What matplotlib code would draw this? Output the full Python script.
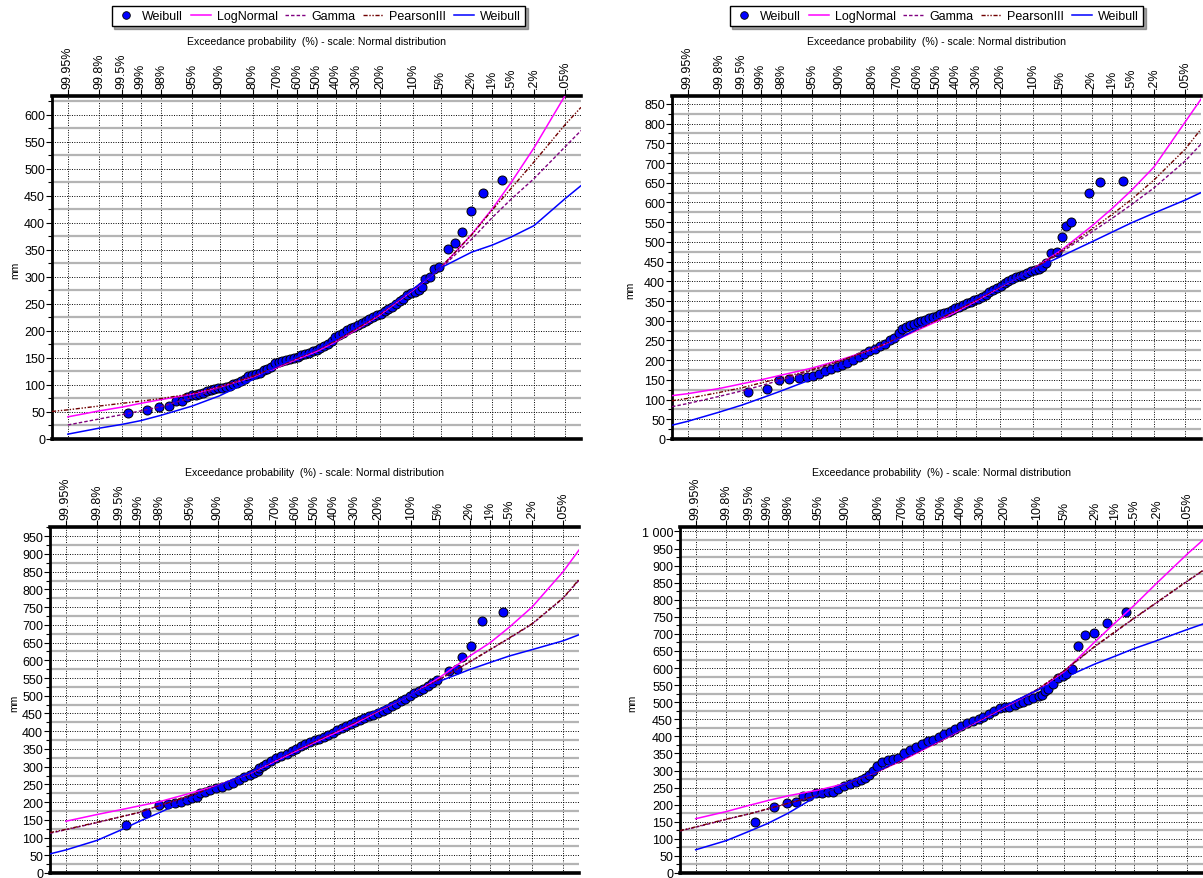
import numpy as np
import matplotlib
matplotlib.use("Agg")
import matplotlib.pyplot as plt
from matplotlib.lines import Line2D
from matplotlib.ticker import MultipleLocator, FuncFormatter, NullLocator
from statistics import NormalDist

plt.rcParams['font.family'] = ['Liberation Sans', 'DejaVu Sans']

W, H = 1203, 879
nan = np.nan

# ---------------- axis data ----------------
prob_pct = [99.95, 99.8, 99.5, 99, 98, 95, 90, 80, 70, 60, 50, 40, 30, 20, 10, 5, 2, 1, 0.5, 0.2, 0.05]
prob_labels = ["99.95%", "99.8%", "99.5%", "99%", "98%", "95%", "90%", "80%", "70%", "60%",
               "50%", "40%", "30%", "20%", "10%", "5%", "2%", "1%", ".5%", ".2%", ".05%"]
legend_labels = ["Weibull", "LogNormal", "Gamma", "PearsonIII", "Weibull"]
title_text = "Exceedance probability  (%) - scale: Normal distribution"
y_label = "mm"

# standard normal reduced variate at which fitted curves are sampled
curve_variate = [-3.5, -3.29, -2.878, -2.576, -2.326, -2.054, -1.645, -1.282, -0.842, -0.524, -0.253, 0.0,
                 0.253, 0.524, 0.842, 1.282, 1.645, 2.054, 2.326, 2.576, 2.878, 3.29, 3.5]

# ---------------- top-left ----------------
tl_lognormal = [nan, 41, 52, 59, 66, 73, 83, 96, 115, 132, 148, 162, 180, 202, 230, 276, 317, 379, 426, 475, 539, 636, 690]
tl_gamma     = [nan, 26, 37, 45, 52, 60, 77, 95, 116, 133, 149, 164, 181, 203, 231, 277, 316, 370, 410, 444, 482, 541, 571]
tl_pearson   = [51, 54, 61, 66, 70, 75, 84, 97, 116, 134, 150, 165, 182, 204, 232, 278, 318, 378, 424, 464, 513, 582, 614]
tl_weibull   = [nan, 9, 20, 27, 34, 44, 61, 80, 110, 135, 152, 166, 185, 207, 234, 278, 317, 346, 359, 374, 395, 445, 469]
tl_obs_variate = [-2.50, -2.24, -2.08, -1.95, -1.86, -1.78, -1.71, -1.65, -1.60, -1.55, -1.50, -1.45, -1.40, -1.35,
                  -1.30, -1.25, -1.20, -1.15, -1.10, -1.05, -1.00, -0.95, -0.90, -0.85, -0.80, -0.75, -0.70, -0.65,
                  -0.60, -0.55, -0.50, -0.45, -0.40, -0.35, -0.30, -0.25, -0.20, -0.15, -0.10, -0.05, 0.00, 0.05,
                  0.10, 0.15, 0.20, 0.25, 0.30, 0.35, 0.40, 0.45, 0.50, 0.55, 0.60, 0.65, 0.70, 0.75, 0.80, 0.85,
                  0.90, 0.95, 1.00, 1.05, 1.10, 1.15, 1.20, 1.25, 1.30, 1.35, 1.39, 1.44, 1.50, 1.56, 1.62,
                  1.735, 1.83, 1.925, 2.04, 2.20, 2.46]
tl_obs_mm = [48, 54, 60, 61, 70, 70, 78, 81, 82, 84, 86, 88, 90, 92,
             94, 95, 96, 98, 101, 104, 108, 112, 116, 119, 121, 123, 127, 130,
             134, 140, 143, 144, 147, 149, 150, 152, 155, 158, 160, 162, 165, 168,
             172, 176, 182, 188, 192, 197, 201, 205, 208, 211, 215, 218, 222, 225, 229, 232,
             237, 241, 245, 250, 255, 260, 266, 270, 272, 275, 281, 297, 300, 314, 318,
             352, 363, 383, 423, 456, 479]

# ---------------- top-right ----------------
tr_lognormal = [110, 115, 128, 140, 150, 162, 180, 200, 228, 252, 276, 298, 322, 350, 385, 432, 478, 540, 585, 630, 690, 804, 862]
tr_gamma     = [82, 90, 108, 122, 135, 150, 174, 197, 228, 255, 279, 302, 326, 352, 386, 431, 473, 525, 560, 594, 637, 705, 748]
tr_pearson   = [97, 103, 118, 130, 142, 155, 176, 198, 228, 254, 278, 301, 325, 352, 386, 432, 476, 532, 570, 607, 657, 735, 786]
tr_weibull   = [35, 45, 68, 86, 103, 122, 152, 182, 220, 252, 280, 306, 330, 356, 388, 430, 463, 500, 525, 548, 573, 606, 625]
tr_obs_variate = [-2.50, -2.24, -2.08, -1.95, -1.82, -1.72, -1.64, -1.56, -1.48, -1.40, -1.32, -1.25, -1.18, -1.10,
                  -1.03, -0.96, -0.89, -0.82, -0.75, -0.68, -0.62, -0.56, -0.50, -0.45, -0.40, -0.35, -0.30, -0.25,
                  -0.20, -0.15, -0.10, -0.05, 0.00, 0.05, 0.10, 0.15, 0.20, 0.25, 0.30, 0.35, 0.40, 0.45, 0.50,
                  0.55, 0.60, 0.65, 0.70, 0.75, 0.80, 0.85, 0.90, 0.95, 1.00, 1.05, 1.10, 1.15, 1.20, 1.25, 1.30,
                  1.35, 1.40, 1.45, 1.52, 1.59, 1.66, 1.72, 1.78, 2.02, 2.17, 2.47]
tr_obs_mm = [118, 128, 150, 152, 155, 158, 160, 165, 172, 178, 182, 188, 194, 200,
             208, 215, 222, 228, 235, 242, 250, 256, 268, 280, 284, 289, 292, 296,
             300, 303, 306, 309, 312, 316, 320, 323, 328, 332, 336, 340, 344, 348, 352,
             356, 361, 366, 372, 377, 383, 389, 395, 401, 407, 410, 413, 417, 421, 425, 429,
             432, 437, 446, 472, 475, 513, 540, 550, 625, 653, 655]

# ---------------- bottom-left ----------------
bl_lognormal = [nan, 146, 165, 178, 189, 201, 225, 247, 282, 315, 343, 368, 393, 420, 456, 503, 550, 612, 650, 693, 750, 850, 911]
bl_gamma     = [112, 122, 142, 158, 170, 190, 218, 245, 283, 318, 346, 371, 397, 424, 458, 503, 545, 595, 630, 662, 702, 775, 826]
bl_pearson   = [114, 123, 143, 158, 171, 190, 218, 245, 283, 318, 346, 371, 397, 424, 458, 503, 545, 596, 631, 663, 703, 776, 828]
bl_weibull   = [54, 65, 92, 120, 145, 170, 210, 245, 285, 320, 349, 375, 400, 427, 460, 503, 540, 574, 594, 612, 630, 655, 672]
bl_obs_variate = [-2.49, -2.23, -2.06, -1.94, -1.85, -1.76, -1.69, -1.62, -1.56, -1.52, -1.45, -1.38, -1.30, -1.22,
                  -1.15, -1.08, -1.00, -0.93, -0.86, -0.80, -0.75, -0.73, -0.68, -0.64, -0.58, -0.51, -0.44, -0.37,
                  -0.30, -0.24, -0.18, -0.12, -0.06, 0.00, 0.06, 0.12, 0.18, 0.24, 0.30, 0.36, 0.42, 0.48, 0.54,
                  0.60, 0.66, 0.72, 0.78, 0.84, 0.90, 0.96, 1.02, 1.08, 1.14, 1.20, 1.26, 1.32, 1.38, 1.44, 1.50,
                  1.56, 1.62, 1.78, 1.88, 1.95, 2.07, 2.22, 2.50]
bl_obs_mm = [134, 169, 192, 195, 197, 201, 205, 211, 214, 225, 229, 234, 239, 244,
             248, 253, 262, 270, 276, 282, 288, 295, 302, 307, 315, 323, 330, 337,
             344, 351, 358, 364, 370, 374, 379, 384, 390, 396, 402, 408, 414, 420, 426,
             431, 437, 442, 447, 452, 458, 464, 470, 477, 485, 492, 500, 507, 513, 520, 527,
             535, 545, 570, 575, 608, 640, 712, 735]

# ---------------- bottom-right ----------------
br_lognormal = [nan, 159, 180, 198, 212, 226, 243, 262, 298, 330, 360, 388, 418, 448, 485, 535, 590, 677, 733, 783, 848, 934, 975]
br_gamma     = [123, 134, 157, 173, 187, 204, 228, 260, 298, 332, 362, 390, 420, 450, 487, 537, 592, 663, 706, 745, 791, 854, 885]
br_pearson   = [124, 135, 158, 173, 188, 204, 228, 260, 298, 332, 362, 390, 420, 450, 487, 537, 593, 664, 707, 746, 792, 855, 886]
br_weibull   = [nan, 68, 95, 122, 145, 175, 228, 262, 300, 335, 364, 392, 420, 452, 489, 535, 572, 612, 635, 657, 680, 713, 729]
br_obs_variate = [-2.50, -2.24, -2.07, -1.95, -1.86, -1.78, -1.68, -1.60, -1.52, -1.45, -1.38, -1.30, -1.22, -1.15,
                  -1.08, -1.02, -0.97, -0.92, -0.86, -0.79, -0.72, -0.65, -0.58, -0.50, -0.42, -0.34, -0.26, -0.18,
                  -0.11, -0.04, 0.04, 0.11, 0.18, 0.26, 0.34, 0.42, 0.50, 0.56, 0.63, 0.70, 0.78, 0.85, 0.91,
                  0.98, 1.04, 1.09, 1.16, 1.23, 1.30, 1.34, 1.39, 1.43, 1.49, 1.56, 1.62, 1.67, 1.75, 1.83,
                  1.92, 2.04, 2.21, 2.47]
br_obs_mm = [149, 192, 204, 207, 224, 224, 233, 234, 236, 238, 245, 255, 260, 266,
             272, 278, 287, 300, 312, 326, 330, 334, 337, 350, 360, 370, 378, 385,
             389, 398, 406, 414, 422, 430, 438, 446, 452, 457, 466, 474, 482, 485, 487,
             493, 498, 501, 506, 511, 517, 520, 532, 540, 552, 572, 578, 582, 596, 666,
             696, 703, 733, 763]

# ---------------- drawing ----------------
fig = plt.figure(figsize=(W / 100, H / 100), dpi=100)

nd = NormalDist()
tick_variate = [nd.inv_cdf(1 - p / 100.0) for p in prob_pct]

c_obs = '#0000ff'
c_logn = '#ff00ff'
c_gamma = '#800080'
c_pear = '#700000'
c_weib = '#0000ff'
ls_gamma = (0, (2.5, 1.5))
ls_pear = (0, (3, 1.2, 1, 1.2, 1, 1.2))


def thousands(v, pos):
    return f"{int(round(v)):,}".replace(",", " ")


def draw_panel(rect, ymax, obs_x, obs_y, logn, gamma, pear, weib, mm_xy):
    l, t, r, b = rect
    ax = fig.add_axes([l / W, 1 - b / H, (r - l) / W, (b - t) / H])
    ax.set_xlim(-3.5, 3.5)
    ax.set_ylim(0, ymax)
    ax.set_axisbelow(True)

    ax.xaxis.tick_top()
    ax.set_xticks(tick_variate)
    ax.set_xticklabels(prob_labels, rotation=90)
    ax.xaxis.set_minor_locator(NullLocator())
    ax.tick_params(axis='x', which='major', direction='out', length=5, width=0.8,
                   top=True, bottom=False, labeltop=True, labelbottom=False, pad=1,
                   labelsize=9, colors='black')
    ax.yaxis.set_major_locator(MultipleLocator(50))
    ax.yaxis.set_minor_locator(MultipleLocator(25))
    ax.yaxis.set_major_formatter(FuncFormatter(thousands))
    ax.tick_params(axis='y', which='major', direction='out', length=4, width=0.8, pad=1, labelsize=9)
    ax.tick_params(axis='y', which='minor', direction='out', length=3, width=0.8)

    ax.grid(True, which='major', axis='both', color='black', linestyle=(0, (1, 1.5)), linewidth=0.7)
    ax.grid(True, which='minor', axis='y', color='#b4b4b4', linestyle='-', linewidth=1.6)

    ax.spines['right'].set_visible(False)
    ax.spines['top'].set_linewidth(2.6)
    ax.spines['bottom'].set_linewidth(2.6)
    ax.spines['left'].set_linewidth(2.0)

    ax.plot(obs_x, obs_y, linestyle='none', marker='o', markersize=6.5,
            markerfacecolor=c_obs, markeredgecolor='black', markeredgewidth=0.7, zorder=3)
    ax.plot(curve_variate, logn, color=c_logn, linewidth=1.1, zorder=4)
    ax.plot(curve_variate, gamma, color=c_gamma, linewidth=1.0, linestyle=ls_gamma, zorder=4)
    ax.plot(curve_variate, pear, color=c_pear, linewidth=1.0, linestyle=ls_pear, zorder=4)
    ax.plot(curve_variate, weib, color=c_weib, linewidth=1.1, zorder=4)

    cx = (l + r) / 2.0
    fig.text(cx / W, 1 - (t - 55) / H, title_text, ha='center', va='center', fontsize=7.6)
    fig.text(mm_xy[0] / W, 1 - mm_xy[1] / H, y_label, ha='center', va='center',
             rotation=90, fontsize=7.5)
    return ax


draw_panel((52, 97, 581, 440), 635, tl_obs_variate, tl_obs_mm,
           tl_lognormal, tl_gamma, tl_pearson, tl_weibull, (15, 270))
draw_panel((672, 97, 1201, 440), 870, tr_obs_variate, tr_obs_mm,
           tr_lognormal, tr_gamma, tr_pearson, tr_weibull, (630, 290))
draw_panel((50, 528, 579, 874), 976, bl_obs_variate, bl_obs_mm,
           bl_lognormal, bl_gamma, bl_pearson, bl_weibull, (14, 703))
draw_panel((680, 528, 1203, 874), 1013, br_obs_variate, br_obs_mm,
           br_lognormal, br_gamma, br_pearson, br_weibull, (632, 703))

handles = [
    Line2D([], [], linestyle='none', marker='o', markersize=5.5, markerfacecolor=c_obs,
           markeredgecolor='black', markeredgewidth=0.6),
    Line2D([], [], color=c_logn, linewidth=1.1),
    Line2D([], [], color=c_gamma, linewidth=1.0, linestyle=ls_gamma),
    Line2D([], [], color=c_pear, linewidth=1.0, linestyle=ls_pear),
    Line2D([], [], color=c_weib, linewidth=1.1),
]
for cx in (318.5, 936.5):
    fig.legend(handles, legend_labels, loc='center', bbox_to_anchor=(cx / W, 1 - 17 / H),
               ncol=5, frameon=True, fancybox=False, shadow=True, edgecolor='black',
               fontsize=9, handlelength=1.6, columnspacing=0.6, handletextpad=0.5,
               borderpad=0.35, framealpha=1)

fig.savefig("out.png", dpi=100)
